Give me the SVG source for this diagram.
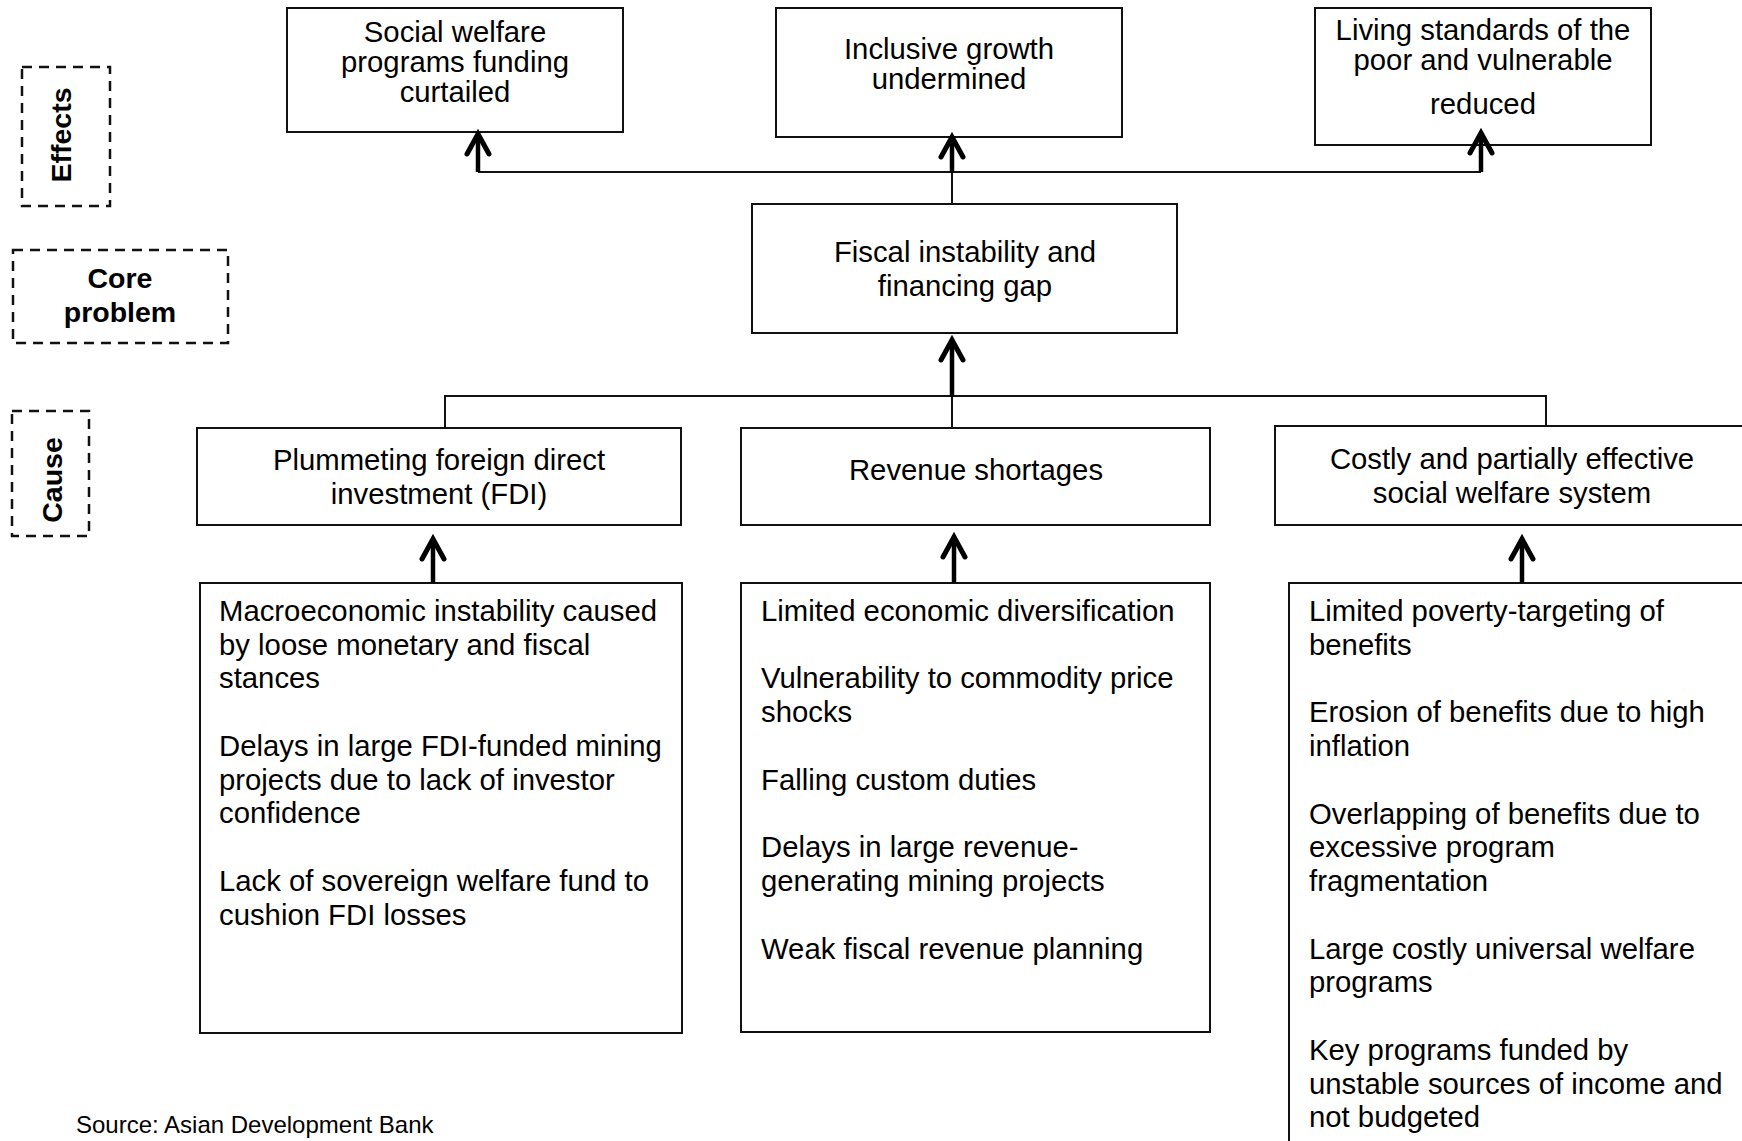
<svg xmlns="http://www.w3.org/2000/svg" width="1742" height="1141" viewBox="0 0 1742 1141">
<style>
.box{fill:#fff;stroke:#111;stroke-width:2}
.dash{fill:none;stroke:#111;stroke-width:2.5;stroke-dasharray:10 7}
.t{font-family:"Liberation Sans",Arial,Helvetica,sans-serif;font-size:29.3px;fill:#000}
.c{text-anchor:middle}
.lbl{font-family:"Liberation Sans",Arial,Helvetica,sans-serif;font-weight:bold;font-size:28.5px;text-anchor:middle;fill:#000}
.src{font-family:"Liberation Sans",Arial,Helvetica,sans-serif;font-size:24px;fill:#000}
.thin{stroke:#111;stroke-width:2;fill:none}
.arr{stroke:#000;stroke-width:4.5;fill:none;marker-end:url(#ah)}
</style>
<defs>
<marker id="ah" markerUnits="userSpaceOnUse" viewBox="-26 -16 30 32" markerWidth="30" markerHeight="32" refX="0" refY="0" orient="auto" style="overflow:visible">
<path d="M -20 -11 L 0 0 L -20 11" fill="none" stroke="#000" stroke-width="5" stroke-linecap="round" stroke-linejoin="miter"/>
</marker>
</defs>
<rect width="1742" height="1141" fill="#fff"/>

<g id="labels">
<g id="label-effects"><rect class="dash" x="22" y="67" width="88" height="139"/><text class="lbl" transform="translate(71,135) rotate(-90)">Effects</text></g>
<g id="label-core"><rect class="dash" x="13" y="250" width="215" height="93"/><text class="lbl" x="120" y="288">Core</text><text class="lbl" x="120" y="322">problem</text></g>
<g id="label-cause"><rect class="dash" x="12" y="411" width="77" height="125"/><text class="lbl" transform="translate(62,480) rotate(-90)">Cause</text></g>
</g>

<g id="effect-social">
<rect class="box" x="287" y="8" width="336" height="124"/>
<text class="t c" x="455" y="42">Social welfare</text>
<text class="t c" x="455" y="72">programs funding</text>
<text class="t c" x="455" y="102">curtailed</text>
</g>
<g id="effect-inclusive">
<rect class="box" x="776" y="8" width="346" height="129"/>
<text class="t c" x="949" y="59">Inclusive growth</text>
<text class="t c" x="949" y="89">undermined</text>
</g>
<g id="effect-living">
<rect class="box" x="1315" y="8" width="336" height="137"/>
<text class="t c" x="1483" y="40">Living standards of the</text>
<text class="t c" x="1483" y="70">poor and vulnerable</text>
<text class="t c" x="1483" y="114">reduced</text>
</g>

<g id="core-fiscal">
<rect class="box" x="752" y="204" width="425" height="129"/>
<text class="t c" x="965" y="262">Fiscal instability and</text>
<text class="t c" x="965" y="296">financing gap</text>
</g>

<g id="cause-fdi">
<rect class="box" x="197" y="428" width="484" height="97"/>
<text class="t c" x="439" y="470">Plummeting foreign direct</text>
<text class="t c" x="439" y="504">investment (FDI)</text>
</g>
<g id="cause-revenue">
<rect class="box" x="741" y="428" width="469" height="97"/>
<text class="t c" x="976" y="480">Revenue shortages</text>
</g>
<g id="cause-welfare">
<rect class="box" x="1275" y="426" width="480" height="99"/>
<text class="t c" x="1512" y="469">Costly and partially effective</text>
<text class="t c" x="1512" y="503">social welfare system</text>
</g>

<g id="list-fdi">
<rect class="box" x="200" y="583" width="482" height="450"/>
<text class="t" x="219" y="621">Macroeconomic instability caused</text>
<text class="t" x="219" y="655">by loose monetary and fiscal</text>
<text class="t" x="219" y="688">stances</text>
<text class="t" x="219" y="756">Delays in large FDI-funded mining</text>
<text class="t" x="219" y="790">projects due to lack of investor</text>
<text class="t" x="219" y="823">confidence</text>
<text class="t" x="219" y="891">Lack of sovereign welfare fund to</text>
<text class="t" x="219" y="925">cushion FDI losses</text>
</g>
<g id="list-revenue">
<rect class="box" x="741" y="583" width="469" height="449"/>
<text class="t" x="761" y="621">Limited economic diversification</text>
<text class="t" x="761" y="688">Vulnerability to commodity price</text>
<text class="t" x="761" y="722">shocks</text>
<text class="t" x="761" y="790">Falling custom duties</text>
<text class="t" x="761" y="857">Delays in large revenue-</text>
<text class="t" x="761" y="891">generating mining projects</text>
<text class="t" x="761" y="959">Weak fiscal revenue planning</text>
</g>
<g id="list-welfare">
<rect class="box" x="1289" y="583" width="470" height="570"/>
<text class="t" x="1309" y="621">Limited poverty-targeting of</text>
<text class="t" x="1309" y="655">benefits</text>
<text class="t" x="1309" y="722">Erosion of benefits due to high</text>
<text class="t" x="1309" y="756">inflation</text>
<text class="t" x="1309" y="824">Overlapping of benefits due to</text>
<text class="t" x="1309" y="857">excessive program</text>
<text class="t" x="1309" y="891">fragmentation</text>
<text class="t" x="1309" y="959">Large costly universal welfare</text>
<text class="t" x="1309" y="992">programs</text>
<text class="t" x="1309" y="1060">Key programs funded by</text>
<text class="t" x="1309" y="1094">unstable sources of income and</text>
<text class="t" x="1309" y="1127">not budgeted</text>
</g>

<g id="connectors">
<path class="thin" d="M478 172 H1481"/>
<path class="thin" d="M952 204 V172"/>
<path class="arr" d="M478 172 V134"/>
<path class="arr" d="M952 172 V137"/>
<path class="arr" d="M1481 172 V133"/>
<path class="thin" d="M445 428 V396 H1546 V426"/>
<path class="thin" d="M952 428 V396"/>
<path class="arr" d="M952 396 V340"/>
<path class="arr" d="M433 583 V539"/>
<path class="arr" d="M954 583 V537"/>
<path class="arr" d="M1522 583 V539"/>
</g>

<g id="source"><text class="src" x="76" y="1133">Source: Asian Development Bank</text></g>
</svg>
